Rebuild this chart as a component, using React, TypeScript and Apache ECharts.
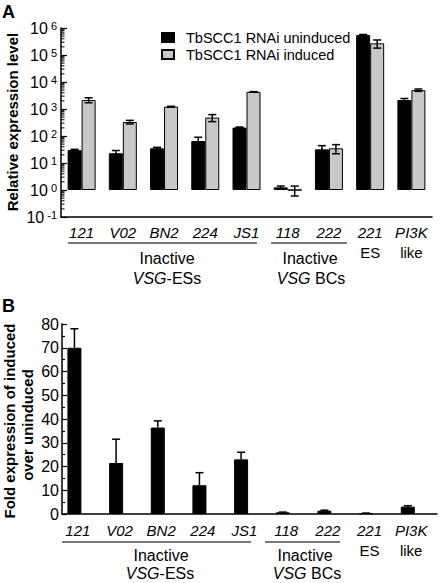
import React, { useEffect, useRef } from "react";
import * as echarts from "echarts";

const categories = ["121", "V02", "BN2", "224", "JS1", "118", "222", "221 ES", "PI3K like"];
const uninduced = [30, 23, 35, 65, 205, 1.25, 32, 550000, 2150];
const uninducedErr = [2, 6, 3, 25, 10, 0.15, 12, 25000, 300];
const induced = [2150, 330, 1220, 480, 4300, 1.0, 35, 270000, 5000];
const inducedErr = [450, 50, 40, 140, 100, 0.4, 13, 90000, 500];
const foldChange = [70, 21.5, 36.4, 12.1, 23, 0.7, 1.4, 0.3, 3.1];
const foldErr = [8, 10, 2.8, 5.3, 3, 0.1, 0.2, 0.1, 0.4];
const legendNames = ["TbSCC1 RNAi uninduced", "TbSCC1 RNAi induced"];
const logDecades = [-1, 0, 1, 2, 3, 4, 5];
const minorMultipliers = [2, 3, 4, 5, 6, 7, 8, 9];

const FONT = "'Liberation Sans', Arial, sans-serif";

function errorRenderer(offset: number, both: boolean) {
  return (params: any, api: any) => {
    const idx = api.value(0);
    const lo = api.coord([idx, api.value(2)]);
    const hi = api.coord([idx, api.value(3)]);
    const x = lo[0] + offset;
    const cap = 4;
    const style = { stroke: "#000", lineWidth: 1.5 };
    const children: any[] = [
      { type: "line", shape: { x1: x, y1: lo[1], x2: x, y2: hi[1] }, style },
      { type: "line", shape: { x1: x - cap, y1: hi[1], x2: x + cap, y2: hi[1] }, style },
    ];
    if (both) {
      children.push({ type: "line", shape: { x1: x - cap, y1: lo[1], x2: x + cap, y2: lo[1] }, style });
    }
    return { type: "group", children };
  };
}

function catLabel(v: string) {
  const parts = v.split(" ");
  return parts.length > 1 ? `{i|${parts[0]}}\n{n|${parts[1]}}` : `{i|${parts[0]}}`;
}

const catRich = {
  i: { fontStyle: "italic", fontSize: 15, lineHeight: 20, fontFamily: FONT, color: "#000" },
  n: { fontSize: 15, lineHeight: 20, fontFamily: FONT, color: "#000" },
};

function txt(x: number, y: number, text: string, extra: any = {}) {
  return {
    type: "text",
    x,
    y,
    style: {
      text,
      align: "center",
      verticalAlign: "middle",
      fontSize: 16,
      fontFamily: FONT,
      fill: "#000",
      rich: { i: { fontStyle: "italic", fontSize: 16, fontFamily: FONT, fill: "#000" } },
      ...extra,
    },
  };
}

function uline(x1: number, x2: number, y: number) {
  return { type: "line", shape: { x1, y1: y, x2, y2: y }, style: { stroke: "#777", lineWidth: 2 } };
}

export default function App() {
  const ref = useRef<HTMLDivElement>(null);
  useEffect(() => {
    if (!ref.current) return;
    const chart = echarts.init(ref.current, null, { renderer: "svg" });
    const minorTicks: number[][] = [];
    logDecades.forEach((d) => minorMultipliers.forEach((m) => minorTicks.push([0, m * Math.pow(10, d)])));

    const option: any = {
      animation: false,
      backgroundColor: "#fff",
      textStyle: { fontFamily: FONT },
      legend: {
        left: 156,
        top: 25,
        orient: "vertical",
        icon: "rect",
        itemWidth: 12,
        itemHeight: 9,
        itemGap: 2,
        data: legendNames,
        textStyle: { fontSize: 14.5, fontFamily: FONT, color: "#000", padding: [0, 0, 0, 7], lineHeight: 15 },
      },
      grid: [
        { left: 61, top: 28, width: 371, height: 189 },
        { left: 62, top: 324, width: 375, height: 190 },
      ],
      xAxis: [
        {
          type: "category",
          gridIndex: 0,
          data: categories,
          axisTick: { show: false },
          axisLine: { lineStyle: { color: "#000", width: 1.5 } },
          axisLabel: { formatter: catLabel, rich: catRich, margin: 5, interval: 0 },
        },
        {
          type: "category",
          gridIndex: 1,
          data: categories,
          axisTick: { show: false },
          axisLine: { lineStyle: { color: "#000", width: 1.5 } },
          axisLabel: { formatter: catLabel, rich: catRich, margin: 6, interval: 0, padding: [0, 10, 0, 0] },
        },
      ],
      yAxis: [
        {
          type: "log",
          logBase: 10,
          gridIndex: 0,
          min: 0.1,
          max: 1000000,
          axisLine: { show: true, lineStyle: { color: "#000", width: 1.5 } },
          axisTick: { show: true, inside: true, length: 6, lineStyle: { color: "#000", width: 1.2 } },
          splitLine: { show: false },
          axisLabel: {
            margin: 4,
            formatter: (v: number) => `{b|10}{s|${Math.round(Math.log10(v))}}`,
            rich: {
              b: { fontSize: 16, lineHeight: 16, fontFamily: FONT, color: "#000" },
              s: { fontSize: 11, lineHeight: 11, verticalAlign: "top", padding: [0, 0, 0, 3], fontFamily: FONT, color: "#000" },
            },
          },
        },
        {
          type: "value",
          gridIndex: 1,
          min: 0,
          max: 80,
          interval: 10,
          axisLine: { show: true, lineStyle: { color: "#000", width: 1.5 } },
          axisTick: { show: true, inside: true, length: 5, lineStyle: { color: "#000", width: 1.2 } },
          minorTick: { show: true, splitNumber: 2, length: 3, lineStyle: { color: "#000", width: 1.2 } },
          splitLine: { show: false },
          axisLabel: { margin: 3, fontSize: 16, color: "#000", fontFamily: FONT },
        },
      ],
      series: [
        {
          name: legendNames[0],
          type: "bar",
          xAxisIndex: 0,
          yAxisIndex: 0,
          data: uninduced,
          barWidth: 14,
          barGap: "0%",
          itemStyle: { color: "#000", borderColor: "#000", borderWidth: 1 },
        },
        {
          name: legendNames[1],
          type: "bar",
          xAxisIndex: 0,
          yAxisIndex: 0,
          data: induced,
          barWidth: 14,
          barGap: "0%",
          itemStyle: { color: "#c8c8c8", borderColor: "#000", borderWidth: 1 },
        },
        {
          type: "custom",
          xAxisIndex: 0,
          yAxisIndex: 0,
          z: 5,
          encode: { x: 0, y: 1 },
          data: uninduced.map((v, i) => [i, v, v - uninducedErr[i], v + uninducedErr[i]]),
          renderItem: errorRenderer(-7, true),
        },
        {
          type: "custom",
          xAxisIndex: 0,
          yAxisIndex: 0,
          z: 5,
          encode: { x: 0, y: 1 },
          data: induced.map((v, i) => [i, v, v - inducedErr[i], v + inducedErr[i]]),
          renderItem: errorRenderer(7, true),
        },
        {
          type: "custom",
          xAxisIndex: 0,
          yAxisIndex: 0,
          z: 5,
          encode: { x: 0, y: 1 },
          data: minorTicks,
          renderItem: (params: any, api: any) => {
            const p = api.coord([0, api.value(1)]);
            const w = api.size([1, 0])[0];
            const x0 = p[0] - w / 2;
            return {
              type: "line",
              shape: { x1: x0, y1: p[1], x2: x0 + 3.5, y2: p[1] },
              style: { stroke: "#000", lineWidth: 1 },
            };
          },
        },
        {
          name: "fold",
          type: "bar",
          xAxisIndex: 1,
          yAxisIndex: 1,
          data: foldChange,
          barWidth: 14,
          barGap: "20%",
          itemStyle: { color: "#000", borderColor: "#000", borderWidth: 1 },
        },
        {
          name: "spacer",
          type: "bar",
          xAxisIndex: 1,
          yAxisIndex: 1,
          data: categories.map(() => "-"),
          barWidth: 14,
          barGap: "20%",
        },
        {
          type: "custom",
          xAxisIndex: 1,
          yAxisIndex: 1,
          z: 5,
          encode: { x: 0, y: 1 },
          data: foldChange.map((v, i) => [i, v, v, v + foldErr[i]]),
          renderItem: errorRenderer(-8.4, false),
        },
      ],
      graphic: [
        { type: "text", x: 2, y: 3, style: { text: "A", fontSize: 18, fontWeight: "bold", fontFamily: FONT, fill: "#000" } },
        { type: "text", x: 2, y: 297, style: { text: "B", fontSize: 18, fontWeight: "bold", fontFamily: FONT, fill: "#000" } },
        {
          type: "text",
          x: 12.5,
          y: 122,
          rotation: Math.PI / 2,
          style: { text: "Relative expression level", align: "center", verticalAlign: "middle", fontSize: 15, fontWeight: "bold", fontFamily: FONT, fill: "#000" },
        },
        {
          type: "text",
          x: 9,
          y: 421,
          rotation: Math.PI / 2,
          style: { text: "Fold expression of induced", align: "center", verticalAlign: "middle", fontSize: 15, fontWeight: "bold", fontFamily: FONT, fill: "#000" },
        },
        {
          type: "text",
          x: 27,
          y: 425,
          rotation: Math.PI / 2,
          style: { text: "over uninduced", align: "center", verticalAlign: "middle", fontSize: 15, fontWeight: "bold", fontFamily: FONT, fill: "#000" },
        },
        uline(68, 257, 243),
        uline(271, 347, 243),
        txt(167, 258, "Inactive"),
        txt(167, 278, "{i|VSG}-ESs"),
        txt(310, 258, "Inactive"),
        txt(311, 278, "{i|VSG} BCs"),
        uline(62, 251, 542),
        uline(265, 340, 542),
        txt(161, 555, "Inactive"),
        txt(160, 573, "{i|VSG}-ESs"),
        txt(305, 555, "Inactive"),
        txt(307, 573, "{i|VSG} BCs"),
      ],
    };
    chart.setOption(option);
    return () => chart.dispose();
  }, []);
  return (
    <div
      ref={ref}
      style={{ position: "fixed", left: 0, top: 0, width: 441, height: 583, background: "#fff" }}
    />
  );
}
